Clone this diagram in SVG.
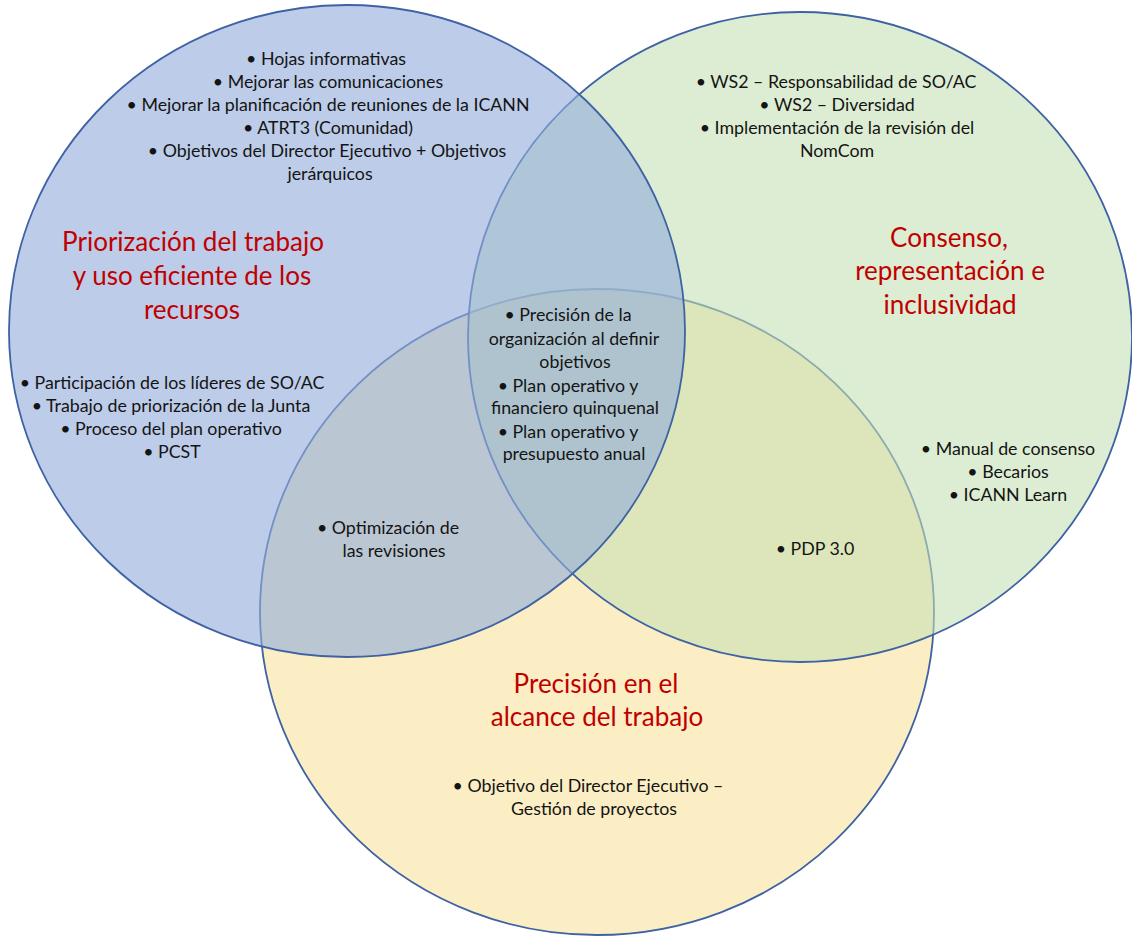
<svg xmlns="http://www.w3.org/2000/svg" width="1132" height="936" viewBox="0 0 1132 936">
<style>
.c{stroke:#3E62A3;stroke-width:1.8}
.t{font-family:Lato,"Liberation Sans",sans-serif;font-size:17.8px;fill:#141414;text-anchor:middle}
.h{font-family:Lato,"Liberation Sans",sans-serif;font-size:26px;fill:#C00000;text-anchor:middle}
</style>
<rect width="1132" height="936" fill="#ffffff"/>
<g id="yellow">
<ellipse class="c" cx="597" cy="612" rx="337" ry="323" fill="#FCEEC4"/>
<text class="h" x="596" y="693">Precisión en el</text>
<text class="h" x="597" y="726">alcance del trabajo</text>
<text class="t" x="588" y="792">• Objetivo del Director Ejecutivo –</text>
<text class="t" x="594" y="815">Gestión de proyectos</text>
</g>
<g id="green">
<ellipse class="c" cx="800" cy="337" rx="332" ry="325" fill="#C5E0B4" fill-opacity="0.58"/>
<text class="t" x="836" y="88">• WS2 – Responsabilidad de SO/AC</text>
<text class="t" x="837" y="111">• WS2 – Diversidad</text>
<text class="t" x="837" y="134">• Implementación de la revisión del</text>
<text class="t" x="837" y="157">NomCom</text>
<text class="h" x="949" y="247">Consenso,</text>
<text class="h" x="950" y="280">representación e</text>
<text class="h" x="950" y="314">inclusividad</text>
<text class="t" x="1008" y="455">• Manual de consenso</text>
<text class="t" x="1008" y="478">• Becarios</text>
<text class="t" x="1008" y="501">• ICANN Learn</text>
</g>
<g id="blue">
<ellipse class="c" cx="347" cy="331" rx="338" ry="326" fill="#93ADDB" fill-opacity="0.62"/>
<text class="t" x="326" y="65">• Hojas informativas</text>
<text class="t" x="328" y="88">• Mejorar las comunicaciones</text>
<text class="t" x="328" y="111">• Mejorar la planificación de reuniones de la ICANN</text>
<text class="t" x="328" y="134">• ATRT3 (Comunidad)</text>
<text class="t" x="327" y="157">• Objetivos del Director Ejecutivo + Objetivos</text>
<text class="t" x="330" y="180">jerárquicos</text>
<text class="h" x="193" y="251">Priorización del trabajo</text>
<text class="h" x="192" y="285">y uso eficiente de los</text>
<text class="h" x="192" y="319">recursos</text>
<text class="t" x="172" y="389">• Participación de los líderes de SO/AC</text>
<text class="t" x="171" y="412">• Trabajo de priorización de la Junta</text>
<text class="t" x="171" y="435">• Proceso del plan operativo</text>
<text class="t" x="172" y="458">• PCST</text>
</g>
<g id="center-overlap">
<text class="t" x="568" y="321">• Precisión de la</text>
<text class="t" x="574" y="345">organización al definir</text>
<text class="t" x="575" y="368">objetivos</text>
<text class="t" x="568" y="392">• Plan operativo y</text>
<text class="t" x="575" y="414">financiero quinquenal</text>
<text class="t" x="568" y="438">• Plan operativo y</text>
<text class="t" x="574" y="460">presupuesto anual</text>
</g>
<g id="blue-yellow-overlap">
<text class="t" x="388" y="534">• Optimización de</text>
<text class="t" x="394" y="557">las revisiones</text>
</g>
<g id="green-yellow-overlap">
<text class="t" x="815" y="555">• PDP 3.0</text>
</g>
<g id="connectors"/>
</svg>
